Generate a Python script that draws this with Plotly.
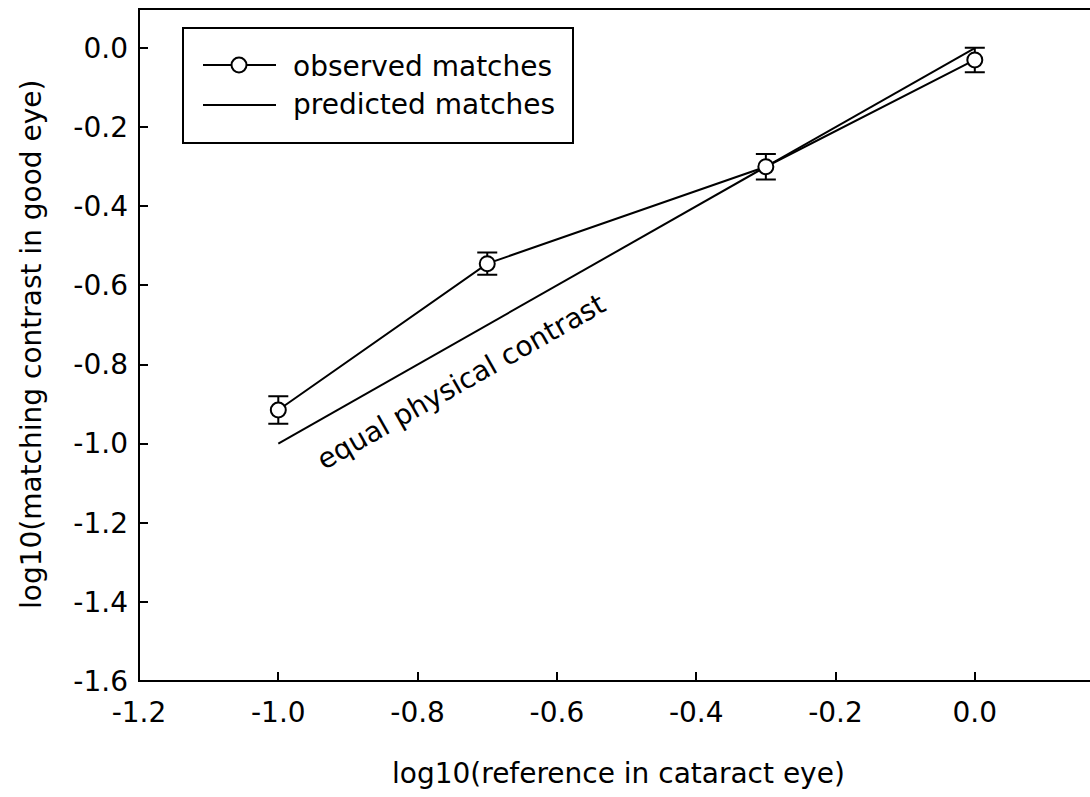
import plotly.graph_objects as go

# Reference contrast in the cataract eye (log10 units)
reference_log = [-1.0, -0.7, -0.3, 0.0]
# Observed matching contrast in the good eye (log10 units) and its error
observed_match = [-0.915, -0.545, -0.300, -0.030]
observed_err = [0.035, 0.028, 0.032, 0.031]

# Prediction: equal physical contrast in both eyes
predicted_x = [-1.0, 0.0]
predicted_y = [-1.0, 0.0]

x_tickvals = [-1.2, -1.0, -0.8, -0.6, -0.4, -0.2, 0.0]
x_ticktext = ["-1.2", "-1.0", "-0.8", "-0.6", "-0.4", "-0.2", "0.0"]
y_tickvals = [0.0, -0.2, -0.4, -0.6, -0.8, -1.0, -1.2, -1.4, -1.6]
y_ticktext = ["0.0", "-0.2", "-0.4", "-0.6", "-0.8", "-1.0", "-1.2", "-1.4", "-1.6"]

FONT = "DejaVu Sans"
FS = 28
# The frame runs on past the right edge of the visible page
W, H = 1100, 797
PL, PR, PT, PB = 139, 1100, 9, 681
X_PER_UNIT, Y_PER_UNIT = 696.5, 395.6


def fx(xp):
    """pixel x -> paper x"""
    return (xp - PL) / (PR - PL)


def fy(yp):
    """pixel y -> paper y"""
    return (PB - yp) / (PB - PT)


fig = go.Figure()

fig.add_trace(go.Scatter(
    x=predicted_x, y=predicted_y, mode="lines",
    line=dict(color="black", width=2),
    name="predicted matches", showlegend=False,
))

fig.add_trace(go.Scatter(
    x=reference_log, y=observed_match, mode="lines+markers",
    line=dict(color="black", width=2),
    marker=dict(symbol="circle", size=15, color="white",
                line=dict(color="black", width=2)),
    error_y=dict(type="data", array=observed_err, visible=True,
                 color="black", thickness=2, width=10),
    name="observed matches", showlegend=False,
))

shapes = []
annotations = []

# Frame: left, top and bottom sides
shapes.append(dict(type="path", xref="paper", yref="paper",
                   path="M 1.0,1.0 L 0,1.0 L 0,0 L 1.0,0",
                   line=dict(color="black", width=2), layer="above"))

# Legend box
shapes.append(dict(type="rect", xref="paper", yref="paper",
                   x0=fx(183), x1=fx(573), y0=fy(28), y1=fy(143),
                   line=dict(color="black", width=2), fillcolor="white",
                   layer="above"))
shapes.append(dict(type="line", xref="paper", yref="paper",
                   x0=fx(203), x1=fx(276), y0=fy(65), y1=fy(65),
                   line=dict(color="black", width=2), layer="above"))
shapes.append(dict(type="circle", xref="paper", yref="paper",
                   xsizemode="pixel", ysizemode="pixel",
                   xanchor=fx(239), yanchor=fy(65),
                   x0=-7.5, x1=7.5, y0=-7.5, y1=7.5,
                   line=dict(color="black", width=2), fillcolor="white",
                   layer="above"))
shapes.append(dict(type="line", xref="paper", yref="paper",
                   x0=fx(203), x1=fx(276), y0=fy(105), y1=fy(105),
                   line=dict(color="black", width=2), layer="above"))
annotations.append(dict(text="observed matches", xref="paper", yref="paper",
                        x=fx(291), y=fy(66), xanchor="left", yanchor="middle",
                        showarrow=False, font=dict(family=FONT, size=FS, color="black")))
annotations.append(dict(text="predicted matches", xref="paper", yref="paper",
                        x=fx(291), y=fy(104), xanchor="left", yanchor="middle",
                        showarrow=False, font=dict(family=FONT, size=FS, color="black")))

# Label along the prediction line
annotations.append(dict(text="equal physical contrast", x=-0.737, y=-0.842,
                        xref="x", yref="y", textangle=-29.5, showarrow=False,
                        font=dict(family=FONT, size=FS, color="black")))

# Axis titles
annotations.append(dict(text="log10(reference in cataract eye)", xref="paper", yref="paper",
                        x=fx(618), y=fy(773), xanchor="center", yanchor="middle",
                        showarrow=False, font=dict(family=FONT, size=FS, color="black")))
annotations.append(dict(text="log10(matching contrast in good eye)", xref="paper", yref="paper",
                        x=fx(31), y=fy(345), xanchor="center", yanchor="middle",
                        textangle=-90, showarrow=False,
                        font=dict(family=FONT, size=FS, color="black")))

fig.update_layout(
    template="none",
    width=W, height=H,
    margin=dict(l=PL, r=W - PR, t=PT, b=H - PB, pad=0),
    paper_bgcolor="white", plot_bgcolor="white",
    font=dict(family=FONT, size=FS, color="black"),
    shapes=shapes, annotations=annotations,
    showlegend=False,
)

fig.update_xaxes(
    range=[-1.2, -1.2 + (PR - PL) / X_PER_UNIT],
    tickvals=x_tickvals, ticktext=x_ticktext,
    ticks="inside", ticklen=9, tickwidth=2, tickcolor="black",
    showline=False, mirror=False,
    showgrid=False, zeroline=False,
    tickfont=dict(family=FONT, size=FS, color="black"),
    ticklabelstandoff=12,
)
fig.update_yaxes(
    range=[-1.6, -1.6 + (PB - PT) / Y_PER_UNIT],
    tickvals=y_tickvals, ticktext=y_ticktext,
    ticks="inside", ticklen=9, tickwidth=2, tickcolor="black",
    showline=False, mirror=False,
    showgrid=False, zeroline=False,
    tickfont=dict(family=FONT, size=FS, color="black"),
    ticklabelstandoff=10,
)

# Page without scrollbars so the figure's right margin simply runs off the edge
fig.write_html(
    "out.html",
    post_script="document.documentElement.style.overflow='hidden';"
                "document.body.style.overflow='hidden';",
)
